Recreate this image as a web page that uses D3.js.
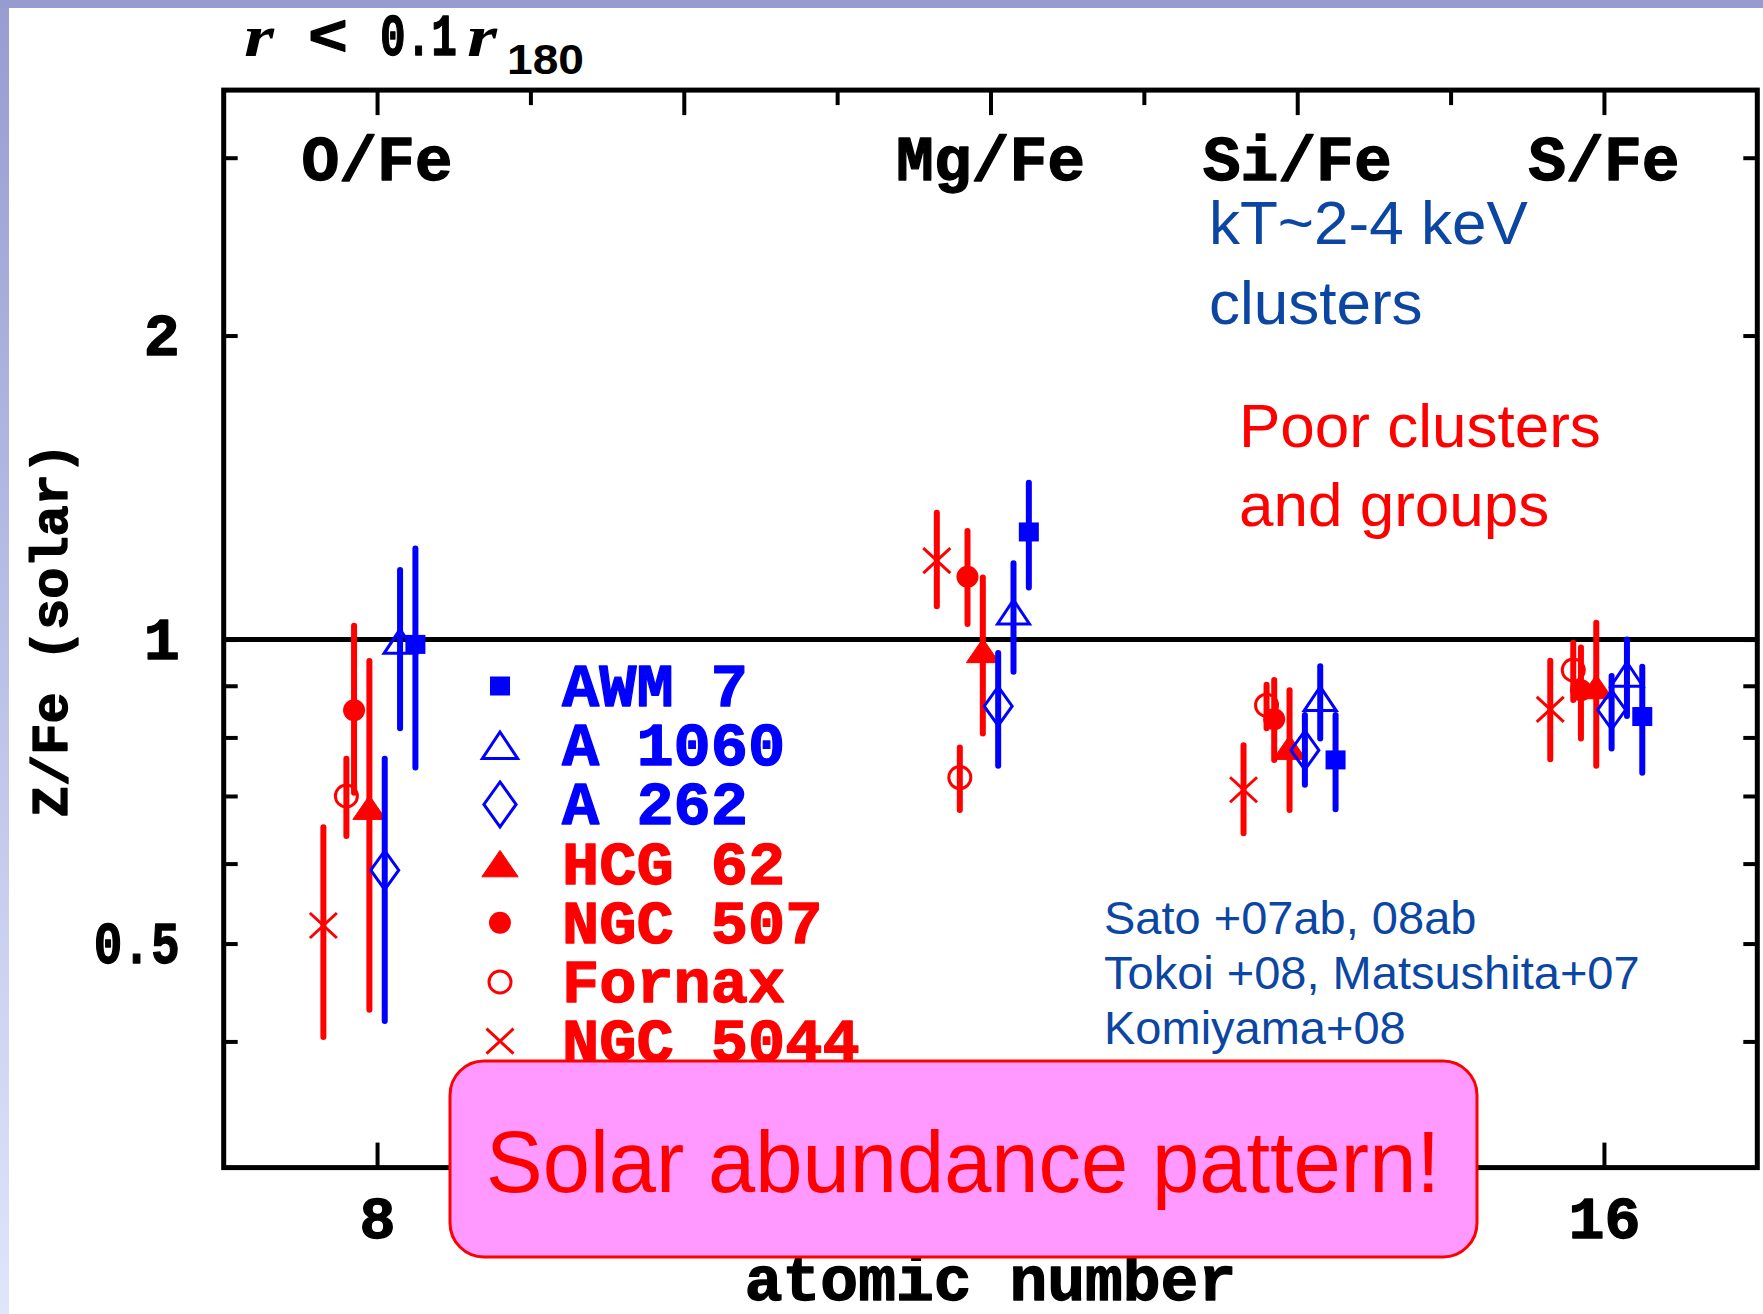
<!DOCTYPE html>
<html>
<head>
<meta charset="utf-8">
<script src="https://cdn.jsdelivr.net/npm/d3@7"></script>
<style>
  html, body { margin: 0; padding: 0; background: #ffffff; }
  svg { display: block; }
</style>
</head>
<body>
<svg id="chart" width="1763" height="1314"></svg>
<script>
// ---------- data ----------
const elementLabels = ["O/Fe", "Mg/Fe", "Si/Fe", "S/Fe"];
const atomicNumbers = [8, 12, 14, 16];

const seriesNames = ["AWM 7", "A 1060", "A 262", "HCG 62", "NGC 507", "Fornax", "NGC 5044"];
// horizontal dodge of each series around the element's atomic number
const seriesOffset = [0.25, 0.15, 0.05, -0.05, -0.15, -0.20, -0.35];

// [Z/Fe, lower, upper] for O, Mg, Si, S
const awm7    = [[0.989, 0.747, 1.231], [1.278, 1.126, 1.430], [0.760, 0.679, 0.842], [0.839, 0.738, 0.940]];
const a1060   = [[0.996, 0.817, 1.172], [1.065, 0.929, 1.190], [0.874, 0.798, 0.941], [0.924, 0.840, 1.000]];
const a262    = [[0.591, 0.419, 0.762], [0.859, 0.750, 0.970], [0.777, 0.718, 0.842], [0.852, 0.780, 0.920]];
const hcg62   = [[0.682, 0.430, 0.952], [0.975, 0.807, 1.152], [0.782, 0.678, 0.891], [0.898, 0.750, 1.039]];
const ngc507  = [[0.851, 0.705, 1.032], [1.154, 1.036, 1.281], [0.834, 0.760, 0.912], [0.891, 0.798, 0.982]];
const fornax  = [[0.700, 0.639, 0.762], [0.730, 0.678, 0.782], [0.861, 0.817, 0.902], [0.933, 0.871, 0.993]];
const ngc5044 = [[0.521, 0.404, 0.652], [1.197, 1.079, 1.335], [0.710, 0.643, 0.786], [0.853, 0.761, 0.953]];
const seriesValues = [awm7, a1060, a262, hcg62, ngc507, fornax, ngc5044];

const yTickValues = [0.4, 0.5, 0.6, 0.7, 0.8, 0.9, 1, 2, 3];
const yTickLabels = [0.5, 1, 2];
const xMajorTicks = [8, 10, 12, 14, 16];
const xMinorTicks = [9, 11, 13, 15];
const xTickLabels = [8, 16];

const clusterNote = ["kT~2-4 keV", "clusters"];
const groupNote = ["Poor clusters", "and groups"];
const references = ["Sato +07ab, 08ab", "Tokoi +08, Matsushita+07", "Komiyama+08"];
const boxText = "Solar abundance pattern!";

// ---------- styles ----------
const RED = "#ff0000", BLUE = "#0000ff", NOTE_BLUE = "#0c46a3";
const seriesStyle = {
  "AWM 7":    { color: BLUE, symbol: "squareFilled" },
  "A 1060":   { color: BLUE, symbol: "triangleOpen" },
  "A 262":    { color: BLUE, symbol: "diamondOpen" },
  "HCG 62":   { color: RED,  symbol: "triangleFilled" },
  "NGC 507":  { color: RED,  symbol: "circleFilled" },
  "Fornax":   { color: RED,  symbol: "circleOpen" },
  "NGC 5044": { color: RED,  symbol: "cross" }
};
const MONO = "'Liberation Mono', 'DejaVu Sans Mono', monospace";
const SANS = "'Liberation Sans', Arial, sans-serif";
const SERIF = "'Liberation Serif', 'DejaVu Serif', serif";

// heavy slab-serif look for the plot's own lettering
function heavy(sel, color) {
  return sel.attr("font-family", MONO).attr("font-weight", "bold")
    .attr("fill", color).attr("stroke", color).attr("stroke-width", 1.3)
    .attr("stroke-linejoin", "round");
}

// ---------- layout ----------
const W = 1763, H = 1314;
const plot = { left: 223.7, right: 1757.3, top: 90.1, bottom: 1167.6 };

const svg = d3.select("#chart");

// slide decoration: top band and left gradient strip
const defs = svg.append("defs");
const grad = defs.append("linearGradient").attr("id", "leftStrip")
  .attr("x1", 0).attr("y1", 0).attr("x2", 0).attr("y2", 1);
grad.append("stop").attr("offset", "0%").attr("stop-color", "#979cd2");
grad.append("stop").attr("offset", "100%").attr("stop-color", "#dfe5fb");
svg.append("rect").attr("x", 0).attr("y", 0).attr("width", 9).attr("height", H).attr("fill", "url(#leftStrip)");
svg.append("rect").attr("x", 0).attr("y", 0).attr("width", W).attr("height", 8).attr("fill", "#969bd0");

const x = d3.scaleLinear().domain([7, 17]).range([plot.left, plot.right]);
const y = d3.scaleLog().domain([0.3, 3.5]).range([plot.bottom, plot.top]);

// ---------- axes ----------
function styleAxis(g) {
  g.select(".domain").remove();
  g.selectAll(".tick line").attr("stroke", "#000").attr("stroke-width", 4);
  g.selectAll(".tick text").call(heavy, "#000").attr("font-size", 60)
    .each(function () {
      const t = d3.select(this);
      if (t.text() === "0.5") t.attr("textLength", 86).attr("lengthAdjust", "spacingAndGlyphs");
    });
}
const fmtY = d => yTickLabels.includes(d) ? String(d) : "";
const fmtX = d => xTickLabels.includes(d) ? String(d) : "";

svg.append("g").attr("transform", `translate(${plot.left},0)`)
  .call(d3.axisLeft(y).tickValues(yTickValues).tickSizeInner(-14).tickSizeOuter(0)
    .tickPadding(44).tickFormat(fmtY))
  .call(styleAxis);
svg.append("g").attr("transform", `translate(${plot.right},0)`)
  .call(d3.axisRight(y).tickValues(yTickValues).tickSizeInner(-14).tickSizeOuter(0).tickFormat(""))
  .call(styleAxis);
svg.append("g").attr("transform", `translate(0,${plot.top})`)
  .call(d3.axisTop(x).tickValues(xMajorTicks).tickSizeInner(-25).tickSizeOuter(0).tickFormat(""))
  .call(styleAxis);
svg.append("g").attr("transform", `translate(0,${plot.top})`)
  .call(d3.axisTop(x).tickValues(xMinorTicks).tickSizeInner(-15).tickSizeOuter(0).tickFormat(""))
  .call(styleAxis);
svg.append("g").attr("transform", `translate(0,${plot.bottom})`)
  .call(d3.axisBottom(x).tickValues(xMajorTicks).tickSizeInner(-25).tickSizeOuter(0)
    .tickPadding(28).tickFormat(fmtX))
  .call(styleAxis);
svg.append("g").attr("transform", `translate(0,${plot.bottom})`)
  .call(d3.axisBottom(x).tickValues(xMinorTicks).tickSizeInner(-15).tickSizeOuter(0).tickFormat(""))
  .call(styleAxis);

// frame
svg.append("rect")
  .attr("x", plot.left).attr("y", plot.top)
  .attr("width", plot.right - plot.left).attr("height", plot.bottom - plot.top)
  .attr("fill", "none").attr("stroke", "#000").attr("stroke-width", 5);

// solar ratio reference line
svg.append("line")
  .attr("x1", plot.left).attr("x2", plot.right)
  .attr("y1", y(1)).attr("y2", y(1))
  .attr("stroke", "#000").attr("stroke-width", 5);

// element labels along the top
svg.append("g").selectAll("text").data(elementLabels).join("text")
  .attr("x", (d, i) => x(atomicNumbers[i]))
  .attr("y", 180)
  .attr("text-anchor", "middle")
  .call(heavy, "#000").attr("font-size", 63)
  .text(d => d);

// ---------- symbols ----------
const symbolSize = {
  squareFilled: [20, 19], triangleOpen: [32, 24], diamondOpen: [28, 39],
  triangleFilled: [33, 24], circleFilled: [22, 22], circleOpen: [25, 25], cross: [27, 25]
};
function drawSymbol(g, type, color, scale) {
  const [w, h] = symbolSize[type].map(v => v * scale);
  switch (type) {
    case "squareFilled":
      g.append("rect").attr("x", -w / 2).attr("y", -h / 2).attr("width", w).attr("height", h).attr("fill", color);
      break;
    case "triangleOpen":
    case "triangleFilled": {
      const p = `M0,${-h / 2}L${w / 2},${h / 2}L${-w / 2},${h / 2}Z`;
      const filled = type === "triangleFilled";
      g.append("path").attr("d", p)
        .attr("fill", filled ? color : "none")
        .attr("stroke", color).attr("stroke-width", filled ? 1 : 3).attr("stroke-linejoin", "miter");
      break;
    }
    case "diamondOpen":
      g.append("path").attr("d", `M0,${-h / 2}L${w / 2},0L0,${h / 2}L${-w / 2},0Z`)
        .attr("fill", "none").attr("stroke", color).attr("stroke-width", 3);
      break;
    case "circleFilled":
      g.append("circle").attr("r", w / 2).attr("fill", color);
      break;
    case "circleOpen":
      g.append("circle").attr("r", w / 2 - 1.5).attr("fill", "none").attr("stroke", color).attr("stroke-width", 3);
      break;
    case "cross":
      g.append("path").attr("d", `M${-w / 2},${-h / 2}L${w / 2},${h / 2}M${w / 2},${-h / 2}L${-w / 2},${h / 2}`)
        .attr("fill", "none").attr("stroke", color).attr("stroke-width", 3);
      break;
  }
}

// ---------- data points (red groups first, blue clusters on top) ----------
const drawOrder = [6, 5, 4, 3, 2, 1, 0];
const dataLayer = svg.append("g");
drawOrder.forEach(si => {
  const name = seriesNames[si];
  const st = seriesStyle[name];
  const pts = seriesValues[si].map((v, ei) => ({
    z: atomicNumbers[ei] + seriesOffset[si], val: v[0], lo: v[1], hi: v[2]
  }));
  const g = dataLayer.append("g");
  g.selectAll("line").data(pts).join("line")
    .attr("x1", d => x(d.z)).attr("x2", d => x(d.z))
    .attr("y1", d => y(d.lo)).attr("y2", d => y(d.hi))
    .attr("stroke", st.color).attr("stroke-width", 6).attr("stroke-linecap", "round");
  g.selectAll("g.pt").data(pts).join("g").attr("class", "pt")
    .attr("transform", d => `translate(${x(d.z)},${y(d.val)})`)
    .each(function () { drawSymbol(d3.select(this), st.symbol, st.color, 1); });
});

// ---------- legend ----------
const legend = svg.append("g");
seriesNames.forEach((name, i) => {
  const st = seriesStyle[name];
  const base = 706 + i * 59.2;
  const sg = legend.append("g").attr("transform", `translate(500,${base - 20})`);
  drawSymbol(sg, st.symbol, st.color, name === "A 262" ? 1.15 : (st.symbol.startsWith("triangle") ? 1.1 : 1.0));
  legend.append("text")
    .attr("x", 562).attr("y", base)
    .call(heavy, st.color).attr("font-size", 62)
    .text(name);
});

// ---------- notes ----------
function noteLines(lines, x0, y0, dy, size, color) {
  svg.append("g").selectAll("text").data(lines).join("text")
    .attr("x", x0).attr("y", (d, i) => y0 + i * dy)
    .attr("font-family", SANS).attr("font-size", size).attr("fill", color)
    .text(d => d);
}
noteLines(clusterNote, 1209, 244, 80, 62, NOTE_BLUE);
noteLines(groupNote, 1239, 447, 79, 62, RED);
noteLines(references, 1104, 934, 55, 47, NOTE_BLUE);

// ---------- title: r < 0.1 r_180 ----------
const title = svg.append("g").attr("fill", "#000");
title.append("text").attr("x", 244).attr("y", 56)
  .attr("font-family", SERIF).attr("font-style", "italic").attr("font-weight", "bold").attr("font-size", 60)
  .attr("textLength", 30).attr("lengthAdjust", "spacingAndGlyphs")
  .text("r");
title.append("text").attr("x", 308).attr("y", 55)
  .call(heavy, "#000").attr("font-size", 58)
  .attr("textLength", 40).attr("lengthAdjust", "spacingAndGlyphs")
  .text("<");
title.append("text").attr("x", 380).attr("y", 55)
  .call(heavy, "#000").attr("font-size", 60)
  .attr("textLength", 77).attr("lengthAdjust", "spacingAndGlyphs")
  .text("0.1");
title.append("text").attr("x", 467).attr("y", 56)
  .attr("font-family", SERIF).attr("font-style", "italic").attr("font-weight", "bold").attr("font-size", 60)
  .attr("textLength", 30).attr("lengthAdjust", "spacingAndGlyphs")
  .text("r");
title.append("text").attr("x", 507).attr("y", 74)
  .attr("font-family", SANS).attr("font-weight", "bold").attr("font-size", 42)
  .attr("textLength", 77).attr("lengthAdjust", "spacingAndGlyphs")
  .text("180");

// ---------- axis titles ----------
svg.append("text")
  .attr("transform", "translate(67,630) rotate(-90)")
  .attr("text-anchor", "middle")
  .call(heavy, "#000").attr("font-size", 52)
  .text("Z/Fe (solar)");
svg.append("text")
  .attr("x", (plot.left + plot.right) / 2).attr("y", 1300)
  .attr("text-anchor", "middle")
  .call(heavy, "#000").attr("font-size", 63)
  .text("atomic number");

// ---------- highlight box ----------
svg.append("rect")
  .attr("x", 450).attr("y", 1061).attr("width", 1027).attr("height", 196)
  .attr("rx", 34).attr("ry", 34)
  .attr("fill", "#ff99ff").attr("stroke", RED).attr("stroke-width", 3);
svg.append("text")
  .attr("x", 963).attr("y", 1192)
  .attr("text-anchor", "middle")
  .attr("font-family", SANS).attr("font-size", 88)
  .attr("textLength", 954).attr("lengthAdjust", "spacingAndGlyphs")
  .attr("fill", RED)
  .text(boxText);
</script>
</body>
</html>
